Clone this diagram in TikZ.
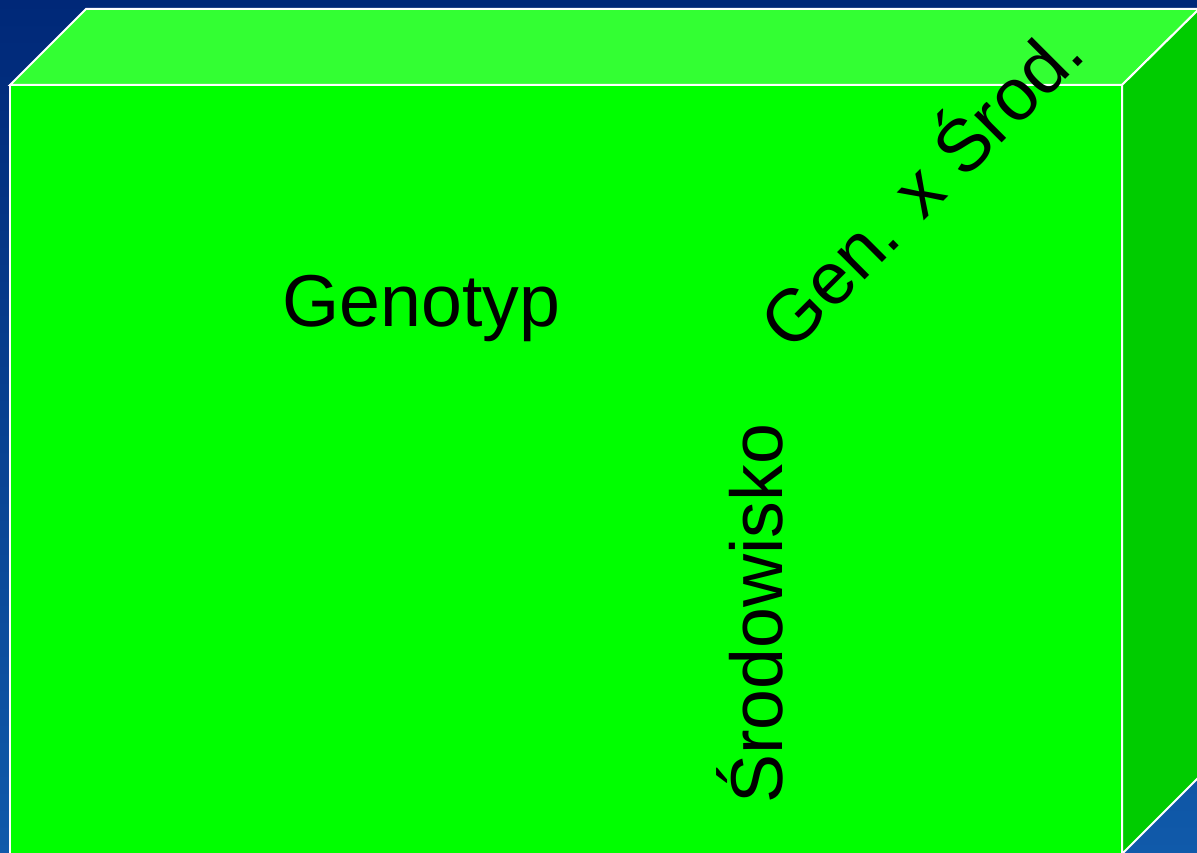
\documentclass[tikz,border=0pt]{standalone}
\usepackage{fontspec}
\setmainfont{Liberation Sans}
\definecolor{bgtop}{RGB}{0,40,120}
\definecolor{bgbot}{RGB}{16,90,170}
\definecolor{frontc}{RGB}{0,255,0}
\definecolor{topc}{RGB}{51,255,51}
\definecolor{sidec}{RGB}{0,204,0}
\tikzset{
  face/.style={draw=white, line width=2pt, line join=miter},
  lbl/.style={font=\fontsize{73.5}{88}\selectfont, text=black, inner sep=0pt, anchor=base}
}
\begin{document}
\begin{tikzpicture}[x=1pt,y=-1pt]
\useasboundingbox (0,0) rectangle (1197,853);
\begin{scope}
\clip (0,0) rectangle (1197,853);
\shade[top color=bgtop, bottom color=bgbot] (0,0) rectangle (1197,853);
\fill[bgtop] (0,0) rectangle (1197,8);
\filldraw[face, fill=topc] (10,85) -- (86,9) -- (1199,9) -- (1122,85) -- cycle;
\filldraw[face, fill=sidec] (1122,85) -- (1199,9) -- (1199,777) -- (1122,854) -- cycle;
\filldraw[face, fill=frontc] (10,85) rectangle (1122,870);
\end{scope}
\node[lbl] (genotyp) at (421.5,326) {Genotyp};
\node[lbl, rotate=90] (srod) at (782,614) {Środowisko};
\node[lbl, rotate=45] (gxs) at (940,205) {Gen. x Środ.};
\end{tikzpicture}
\end{document}
